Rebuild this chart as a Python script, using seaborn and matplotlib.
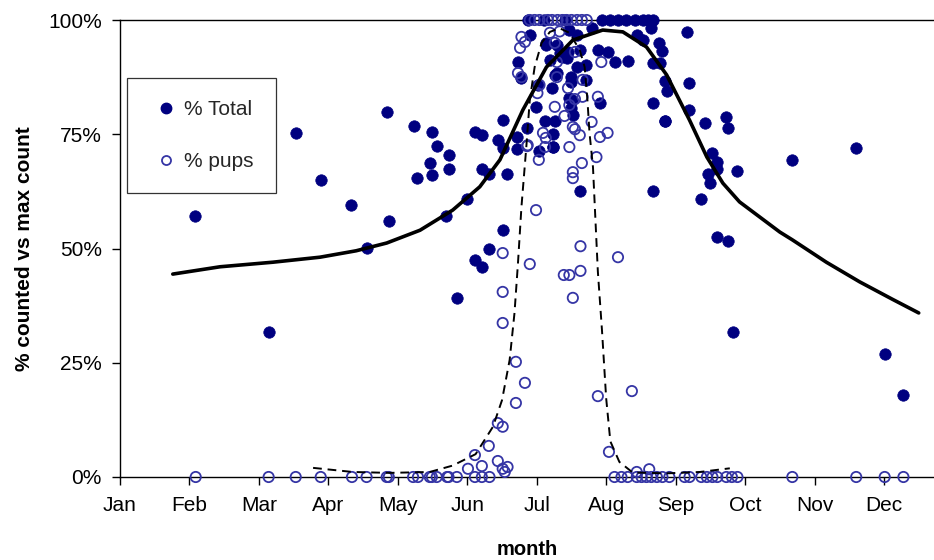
import matplotlib
matplotlib.use("Agg")
import matplotlib.pyplot as plt
import seaborn as sns
import pandas as pd
from matplotlib.lines import Line2D

# ---- data (x in months since 1 Jan, y in % of max count) ----
months = ["Jan", "Feb", "Mar", "Apr", "May", "Jun", "Jul", "Aug", "Sep", "Oct", "Nov", "Dec"]
yticks = [0, 25, 50, 75, 100]
ytick_labels = ["0%", "25%", "50%", "75%", "100%"]

total_x = [1.08, 2.14, 2.53, 2.89, 3.33, 3.56, 3.84, 3.87, 4.23, 4.28, 4.49, 4.57, 4.46, 4.49,
           4.74, 4.74, 4.69, 4.85, 5.00, 5.11, 5.11, 5.21, 5.21, 5.31, 5.31, 5.57, 5.51, 5.71,
           6.03, 6.24, 6.63, 5.21, 5.44, 5.51, 5.71, 5.86, 5.51,
           5.73, 5.78, 5.90, 6.14, 6.29, 6.19, 6.33, 6.45, 6.47, 6.58, 6.26, 6.22, 6.50, 6.47,
           6.50, 5.99, 6.12, 6.27, 6.24, 6.24, 6.02, 6.51, 6.52, 6.50, 6.71, 6.71, 6.62, 6.79,
           6.88, 7.02, 7.12, 7.32, 7.45, 7.53, 7.76, 7.81, 7.65, 6.91, 7.67, 7.84, 6.14, 6.43,
           6.58, 6.29, 6.36,
           5.88, 6.10, 6.40, 6.94, 7.05, 7.17, 7.29, 7.41, 7.53, 7.60, 7.67,
           7.67, 7.77, 8.16, 7.84, 7.87, 8.19, 8.19, 7.84, 8.43, 8.72, 8.76, 8.53, 8.59, 8.59,
           8.89, 8.46, 8.50, 7.68, 8.37, 8.59, 8.76, 8.82, 9.68, 10.59, 11.01, 11.28]
total_y = [57.1, 31.7, 75.2, 65.0, 59.5, 50.2, 79.9, 56.0, 76.7, 65.4, 75.6, 72.5, 68.6, 66.1,
           70.5, 67.3, 57.2, 39.2, 60.8, 75.6, 47.4, 67.4, 45.9, 66.3, 49.9, 66.3, 54.0, 71.8,
           71.3, 72.2, 62.6, 74.8, 73.7, 78.1, 74.4, 76.3, 72.0,
           90.8, 87.3, 96.7, 94.5, 94.5, 91.2, 92.7, 93.0, 97.8, 96.7, 88.0, 85.1, 87.5, 82.9,
           80.7, 81.0, 78.0, 78.0, 75.0, 72.2, 85.8, 82.6, 79.3, 86.5, 86.9, 90.2, 93.4, 98.2,
           93.4, 93.0, 90.8, 91.0, 96.7, 95.6, 95.0, 93.2, 98.2, 81.8, 81.8, 78.0, 95.0, 91.7,
           89.7, 88.4, 92.0,
           100, 100, 100, 100, 100, 100, 100, 100, 100, 100, 100,
           90.6, 90.6, 97.4, 86.7, 84.5, 86.2, 80.3, 77.9, 77.5, 78.8, 76.3, 70.9, 68.9, 67.4,
           67.0, 66.3, 64.3, 62.6, 60.8, 52.5, 51.6, 31.7, 69.4, 72.0, 26.9, 17.9]

pups_x = [1.09, 2.14, 2.53, 2.89, 3.34, 3.55, 3.84, 3.87, 4.22, 4.29, 4.46, 4.49, 4.56, 4.71,
          4.73, 4.85, 5.11, 5.21, 5.32,
          7.12, 7.22, 7.31, 7.44, 7.51, 7.58, 7.65, 7.73, 7.81, 7.91, 8.13, 8.20, 8.37, 8.45,
          8.53, 8.60, 8.73, 8.81, 8.89, 9.68, 10.60, 11.01, 11.28,
          5.01, 5.11, 5.21, 5.31, 5.44, 5.51, 5.58, 5.54, 5.44, 5.51, 5.70, 5.83, 5.70, 5.51,
          5.51, 5.51, 5.90, 5.99, 6.39, 6.47, 6.63, 6.52, 6.63, 7.17, 6.88, 7.37, 7.04, 7.44,
          7.62,
          5.86, 6.03, 6.12, 6.47, 6.86, 6.65, 6.52, 6.52, 5.78, 5.83, 5.76, 5.73, 5.78, 6.19,
          6.26, 6.33, 6.29, 6.29, 6.04, 6.01, 6.26, 6.45, 6.47, 6.52, 6.09, 6.13, 5.87, 6.93,
          6.55, 6.66, 6.66, 6.55, 6.88, 6.79, 6.55, 6.62, 6.91, 7.02, 6.40,
          5.90, 5.97, 6.04, 6.16, 6.22, 6.30, 6.37, 6.43, 6.50, 6.58, 6.65, 6.72]
pups_y = [0] * 19 + [0] * 23 + \
         [1.8, 4.8, 2.4, 6.8, 3.5, 1.8, 2.2, 1.1, 11.8, 11.0, 16.2, 20.6, 25.2, 33.7,
          40.5, 49.0, 46.6, 58.4, 44.2, 44.2, 45.1, 39.2, 50.5, 48.1, 17.7, 18.8, 5.5, 1.1,
          1.7,
          72.4, 69.4, 72.2, 72.2, 70.0, 68.7, 66.7, 65.4, 96.3, 95.2, 93.9, 88.4, 87.5, 97.2,
          95.0, 97.5, 90.8, 87.5, 85.8, 84.0, 81.0, 85.1, 81.4, 76.6, 75.3, 74.2, 72.6, 90.8,
          93.0, 86.9, 83.2, 82.7, 83.2, 77.7, 76.1, 74.8, 74.4, 75.3, 79.0] + [100] * 12

trend_total_x = [0.76, 1.44, 2.20, 2.88, 3.40, 3.84, 4.32, 4.79, 5.18, 5.47, 5.80, 6.14, 6.52,
                 6.95, 7.24, 7.58, 7.87, 8.20, 8.45, 8.68, 8.92, 9.21, 9.50, 9.68, 10.17,
                 10.65, 11.12, 11.50]
trend_total_y = [44.4, 46.0, 47.0, 48.1, 49.5, 51.2, 54.0, 58.4, 63.5, 69.4, 80.3, 89.7, 95.6,
                 97.8, 97.4, 94.1, 88.0, 78.1, 70.0, 64.3, 60.2, 56.9, 53.6, 51.9, 47.0,
                 42.7, 38.9, 35.9]

trend_pups_x = [2.78, 3.35, 3.88, 4.46, 4.79, 5.12, 5.37, 5.50, 5.61, 5.68, 5.73, 5.78, 5.85,
                5.90, 5.97, 6.07, 6.19, 6.33, 6.47, 6.62, 6.69, 6.73, 6.76, 6.81, 6.84, 6.88,
                6.94, 7.00, 7.06, 7.19, 7.38, 7.87, 8.35, 8.78]
trend_pups_y = [2.0, 1.1, 0.9, 1.1, 2.5, 5.0, 11.0, 16.8, 25.6, 35.9, 46.8, 59.1, 72.2,
                82.5, 89.7, 95.0, 97.4, 98.2, 97.2, 93.4, 89.7, 82.5, 75.3, 67.8, 58.0, 45.0,
                32.0, 17.2, 7.8, 3.3, 1.0, 0.8, 1.1, 1.9]

# ---- figure ----
sns.set_theme(style="white")
plt.rcParams['font.family'] = ['Liberation Sans', 'DejaVu Sans']

fig = plt.figure(figsize=(9.34, 5.6), dpi=100)
ax = fig.add_axes([120 / 934, 83 / 560, 1 - 120 / 934, 457 / 560])

NAVY = "#000080"
OPEN = "#3535a5"

df_t = pd.DataFrame({"m": total_x, "v": total_y})
df_p = pd.DataFrame({"m": pups_x, "v": pups_y})
df_tt = pd.DataFrame({"m": trend_total_x, "v": trend_total_y})
df_tp = pd.DataFrame({"m": trend_pups_x, "v": trend_pups_y})

sns.scatterplot(data=df_t, x="m", y="v", ax=ax, color=NAVY, s=68, edgecolor=NAVY,
                linewidth=0.5, zorder=3, clip_on=False)
sns.scatterplot(data=df_p, x="m", y="v", ax=ax, facecolor="none", edgecolor=OPEN, s=55,
                linewidth=1.3, zorder=4, clip_on=False)
sns.lineplot(data=df_tt, x="m", y="v", ax=ax, color="black", linewidth=2.6, sort=False,
             estimator=None, zorder=5)
sns.lineplot(data=df_tp, x="m", y="v", ax=ax, color="black", linewidth=1.4, sort=False,
             estimator=None, zorder=5, dashes=False)
ax.lines[-1].set_dashes([4.5, 3])

ax.set_xlim(0, 11.72)
ax.set_ylim(0, 100)
ax.set_xticks(range(12))
ax.set_xticklabels(months)
ax.set_yticks(yticks)
ax.set_yticklabels(ytick_labels)

for s in ["left", "bottom", "top"]:
    ax.spines[s].set_visible(True)
    ax.spines[s].set_color("black")
    ax.spines[s].set_linewidth(1.0)
ax.spines["right"].set_visible(False)

ax.tick_params(axis="both", which="major", direction="out", length=6, width=1,
               color="black", labelsize=15, labelcolor="black", left=True, bottom=True)
ax.tick_params(axis="y", pad=7)
ax.tick_params(axis="x", pad=8)

ax.set_xlabel("month", fontsize=14.5, fontweight="bold", labelpad=18, color="black")
ax.set_ylabel("% counted vs max count", fontsize=15, fontweight="bold", labelpad=10,
              color="black")

handles = [
    Line2D([], [], linestyle="none", marker="o", markersize=7.5, markerfacecolor=NAVY,
           markeredgecolor=NAVY),
    Line2D([], [], linestyle="none", marker="o", markersize=6.5, markerfacecolor="none",
           markeredgecolor=OPEN, markeredgewidth=1.3),
]
leg = ax.legend(handles, ["% Total", "% pups"], loc="upper left",
                bbox_to_anchor=(7 / 814, 1 - 58 / 457), fontsize=15, frameon=True,
                fancybox=False, edgecolor="black", labelspacing=1.6, handletextpad=0.1,
                borderpad=1.05, handlelength=1.6, borderaxespad=0)
leg.get_frame().set_linewidth(0.9)

fig.savefig("out.png", dpi=100)
